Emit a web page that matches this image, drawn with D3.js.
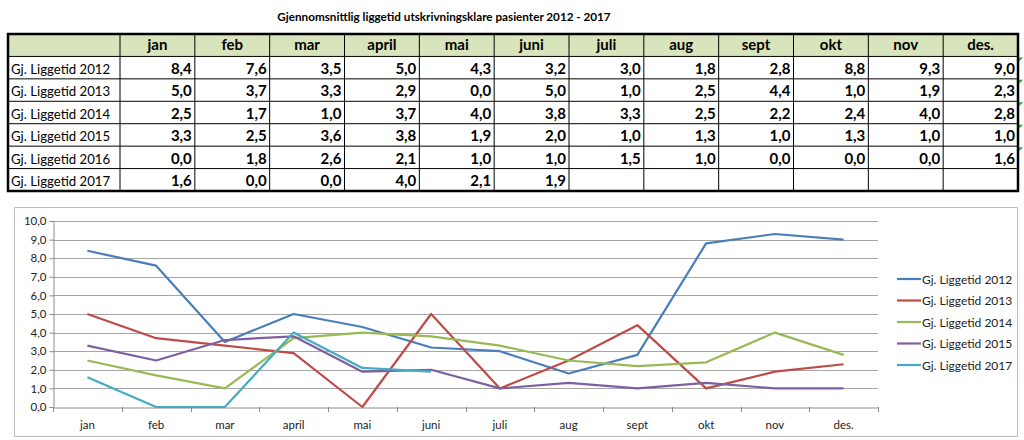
<!DOCTYPE html>
<html><head><meta charset="utf-8">
<script src="https://cdn.jsdelivr.net/npm/d3@7"></script>
<style>
body{margin:0;background:#fff;}
svg{display:block;font-family:Lato,"Open Sans",sans-serif;}
</style></head>
<body><svg id="c" width="1024" height="440"></svg>
<script>
const months = ["jan","feb","mar","april","mai","juni","juli","aug","sept","okt","nov","des."];
const seriesNames = ["Gj. Liggetid 2012","Gj. Liggetid 2013","Gj. Liggetid 2014","Gj. Liggetid 2015","Gj. Liggetid 2016","Gj. Liggetid 2017"];
const v2012 = [8.4,7.6,3.5,5.0,4.3,3.2,3.0,1.8,2.8,8.8,9.3,9.0];
const v2013 = [5.0,3.7,3.3,2.9,0.0,5.0,1.0,2.5,4.4,1.0,1.9,2.3];
const v2014 = [2.5,1.7,1.0,3.7,4.0,3.8,3.3,2.5,2.2,2.4,4.0,2.8];
const v2015 = [3.3,2.5,3.6,3.8,1.9,2.0,1.0,1.3,1.0,1.3,1.0,1.0];
const v2016 = [0.0,1.8,2.6,2.1,1.0,1.0,1.5,1.0,0.0,0.0,0.0,1.6];
const v2017 = [1.6,0.0,0.0,4.0,2.1,1.9];
const yTicks = [0,1,2,3,4,5,6,7,8,9,10];
const title = "Gjennomsnittlig liggetid utskrivningsklare pasienter 2012 - 2017";
const tableValues = [v2012,v2013,v2014,v2015,v2016,v2017];
const chartSeries = [
  {name:"Gj. Liggetid 2012", values:v2012, color:"#4a7ebb"},
  {name:"Gj. Liggetid 2013", values:v2013, color:"#be4b48"},
  {name:"Gj. Liggetid 2014", values:v2014, color:"#98b954"},
  {name:"Gj. Liggetid 2015", values:v2015, color:"#7d60a0"},
  {name:"Gj. Liggetid 2017", values:v2017, color:"#46aac5"}
];
const fmt = v => v.toFixed(1).replace(".", ",");

const svg = d3.select("#c");

// Title
svg.append("text").attr("x",444).attr("y",21).attr("text-anchor","middle")
  .attr("font-weight","bold").attr("font-size",11.7).attr("fill","#000").text(title);

// Table
const colX = d3.scaleBand().domain(months).range([120,1018]);
const rowY = d3.scaleBand().domain(["hdr"].concat(seriesNames)).range([34,191]);
const tbl = svg.append("g");
tbl.append("rect").attr("x",8).attr("y",rowY("hdr")).attr("width",1010).attr("height",rowY.bandwidth())
  .attr("fill","#d8e4bc");
rowY.domain().slice(1).forEach(r=>{
  tbl.append("line").attr("x1",8).attr("x2",1018).attr("y1",rowY(r)).attr("y2",rowY(r))
    .attr("stroke","#000").attr("stroke-width",1);
});
months.forEach(m=>{
  tbl.append("line").attr("x1",colX(m)).attr("x2",colX(m)).attr("y1",34).attr("y2",191)
    .attr("stroke","#000").attr("stroke-width",1);
});
tbl.append("rect").attr("x",8).attr("y",34).attr("width",1010).attr("height",157)
  .attr("fill","none").attr("stroke","#000").attr("stroke-width",2.5);
months.forEach(m=>{
  tbl.append("text").attr("x",colX(m)+colX.bandwidth()/2).attr("y",rowY("hdr")+rowY.bandwidth()-6)
    .attr("text-anchor","middle").attr("font-weight","bold").attr("font-size",15).text(m);
});
seriesNames.forEach((s,i)=>{
  const y = rowY(s)+rowY.bandwidth()-5;
  tbl.append("text").attr("x",11).attr("y",y).attr("font-size",13.2).text(s);
  tableValues[i].forEach((v,j)=>{
    tbl.append("text").attr("x",colX(months[j])+colX.bandwidth()-3).attr("y",y)
      .attr("text-anchor","end").attr("font-weight","bold").attr("font-size",15).text(fmt(v));
  });
  if(i<5){
    tbl.append("path").attr("d",`M${1019},${rowY(s)+1}l4,0l-4,4z`).attr("fill","#2e9a2e");
  }
});

// Chart
svg.append("rect").attr("x",14.5).attr("y",207.5).attr("width",1003).attr("height",229)
  .attr("fill","#fff").attr("stroke","#bdbdbd").attr("stroke-width",1);
const x = d3.scaleBand().domain(months).range([53,878]);
const y = d3.scaleLinear().domain([0,10]).range([407,221]);
const g = svg.append("g");
g.selectAll(".gl").data(yTicks.filter(t=>t>0)).join("line")
  .attr("x1",53).attr("x2",878).attr("y1",d=>Math.round(y(d))+0.5).attr("y2",d=>Math.round(y(d))+0.5)
  .attr("stroke","#a6a6a6").attr("stroke-width",1);
const yAxis = d3.axisLeft(y).tickValues(yTicks).tickFormat(fmt).tickSize(4).tickPadding(3);
const ya = g.append("g").attr("transform","translate(53.5,0)").call(yAxis);
ya.selectAll("text").attr("font-size",11.5).attr("fill","#222").attr("font-family","Lato,sans-serif");
ya.selectAll("line,path").attr("stroke","#8c8c8c");
const xa = g.append("g").attr("transform",`translate(0,${Math.round(y(0))+0.5})`)
  .call(d3.axisBottom(x).tickSize(0).tickPadding(13));
xa.select("path").attr("stroke","#8c8c8c");
xa.selectAll("text").attr("font-size",11.5).attr("fill","#222").attr("font-family","Lato,sans-serif");
g.selectAll(".bt").data(months.concat(["end"])).join("line")
  .attr("x1",d=>Math.round(d==="end"?878:x(d))+0.5).attr("x2",d=>Math.round(d==="end"?878:x(d))+0.5)
  .attr("y1",y(0)).attr("y2",y(0)+5).attr("stroke","#8c8c8c");
const line = d3.line().x((d,i)=>x(months[i])+x.bandwidth()/2).y(d=>y(d));
g.selectAll(".sl").data(chartSeries).join("path")
  .attr("d",d=>line(d.values)).attr("fill","none").attr("stroke",d=>d.color)
  .attr("stroke-width",2.2).attr("stroke-linejoin","round");
const lg = svg.append("g");
chartSeries.forEach((s,i)=>{
  const ly = 279 + i*21.5;
  lg.append("line").attr("x1",897).attr("x2",921).attr("y1",ly).attr("y2",ly)
    .attr("stroke",s.color).attr("stroke-width",2.2);
  lg.append("text").attr("x",922).attr("y",ly+4.5).attr("font-size",12).attr("fill","#222").text(s.name);
});
</script></body></html>
